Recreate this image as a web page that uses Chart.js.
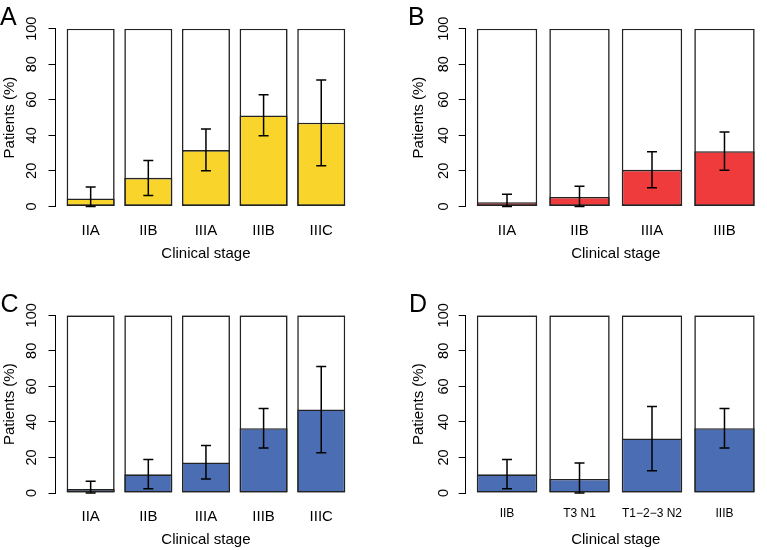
<!DOCTYPE html>
<html>
<head>
<meta charset="utf-8">
<script src="https://cdn.jsdelivr.net/npm/chart.js@4.4.1/dist/chart.umd.min.js"></script>
<style>
  html, body { margin: 0; padding: 0; background: #fff; }
  #wrap { position: relative; width: 767px; height: 550px; overflow: hidden; background: #fff; }
  canvas { position: absolute; }
  .tag { position: absolute; font: 25px/25px "Liberation Sans", Arial, sans-serif; color: #000; }
</style>
</head>
<body>
<div id="wrap">
  <canvas id="chartA" width="383" height="275" style="left:0;top:0"></canvas>
  <canvas id="chartB" width="384" height="275" style="left:383px;top:0"></canvas>
  <canvas id="chartC" width="383" height="275" style="left:0;top:275px"></canvas>
  <canvas id="chartD" width="384" height="275" style="left:383px;top:275px"></canvas>
  <div class="tag" style="left:0;top:4px">A</div>
  <div class="tag" style="left:408px;top:4px">B</div>
  <div class="tag" style="left:0.5px;top:291px">C</div>
  <div class="tag" style="left:409px;top:290.5px">D</div>
</div>
<script>
// values (percent of patients, with CI bounds)
const stagesA = ['IIA', 'IIB', 'IIIA', 'IIIB', 'IIIC'];
const pctA = [4.5, 16.1, 31.7, 51.2, 47.1];
const lowA = [0, 6.2, 20.1, 39.8, 22.9];
const highA = [10.9, 25.9, 43.5, 62.9, 71.1];

const stagesB = ['IIA', 'IIB', 'IIIA', 'IIIB'];
const pctB = [2.4, 5.3, 20.6, 31.1];
const lowB = [0, 0, 10.5, 20.3];
const highB = [6.9, 11.4, 30.8, 41.8];

const stagesC = ['IIA', 'IIB', 'IIIA', 'IIIB', 'IIIC'];
const pctC = [2.2, 10.5, 17.2, 36.5, 47.0];
const lowC = [0, 2.4, 7.9, 25.3, 22.7];
const highC = [6.6, 18.9, 26.8, 47.6, 71.2];

const stagesD = ['IIB', 'T3 N1', 'T1\u22122\u22123 N2', 'IIIB'];
const pctD = [10.5, 7.9, 30.7, 36.5];
const lowD = [2.4, 0, 12.5, 25.3];
const highD = [18.9, 16.9, 48.7, 47.6];

const yTicks = [0, 20, 40, 60, 80, 100];

const FONT = '"Liberation Sans", Arial, sans-serif';
Chart.defaults.font.family = FONT;
Chart.defaults.color = '#000';

// barplot-like layout: bar width 1, gap 0.2
const mid = i => 0.7 + 1.2 * i;

const errorBars = {
  id: 'errorBars',
  afterDatasetsDraw(chart, args, opts) {
    const { ctx, scales: { y } } = chart;
    const meta = chart.getDatasetMeta(0);
    ctx.save();
    ctx.strokeStyle = '#000';
    ctx.lineWidth = 1.5;
    meta.data.forEach((bar, i) => {
      const x = bar.x;
      const y1 = y.getPixelForValue(opts.low[i]);
      const y2 = y.getPixelForValue(opts.high[i]);
      ctx.beginPath();
      ctx.moveTo(x, y1); ctx.lineTo(x, y2);
      ctx.moveTo(x - 5, y1); ctx.lineTo(x + 5, y1);
      ctx.moveTo(x - 5, y2); ctx.lineTo(x + 5, y2);
      ctx.stroke();
    });
    ctx.restore();
  }
};

// y tick labels written sideways, like R's default axis
const sideTicks = {
  id: 'sideTicks',
  afterDraw(chart, args, opts) {
    const { ctx, scales: { y } } = chart;
    const fs = 14.5;
    const cx = y.right - opts.offset;
    ctx.save();
    ctx.fillStyle = '#000';
    ctx.font = fs + 'px ' + FONT;
    ctx.textAlign = 'center';
    ctx.textBaseline = 'alphabetic';
    yTicks.forEach(v => {
      ctx.save();
      ctx.translate(cx, y.getPixelForValue(v));
      ctx.rotate(-Math.PI / 2);
      ctx.fillText(String(v), 0, 0.358 * fs);
      ctx.restore();
    });
    ctx.restore();
  }
};

function makePanel(p) {
  const n = p.labels.length;
  const span = 1.2 * n - 0.2;
  const top = yTicks[yTicks.length - 1];
  const canvas = document.getElementById(p.id);
  const barStyle = {
    borderColor: '#222',
    borderWidth: 1.6,
    borderSkipped: false,
    grouped: false,
    barPercentage: 1 / 1.2,
    categoryPercentage: 1
  };
  return new Chart(canvas, {
    type: 'bar',
    data: {
      datasets: [
        Object.assign({
          data: p.pct.map((v, i) => ({ x: mid(i), y: v })),
          backgroundColor: p.color,
          order: 1
        }, barStyle),
        Object.assign({
          data: p.pct.map((v, i) => ({ x: mid(i), y: top })),
          backgroundColor: '#fff',
          order: 2
        }, barStyle)
      ]
    },
    options: {
      responsive: false,
      animation: false,
      layout: { padding: { left: 0, top: p.top, right: p.padR, bottom: 0 } },
      plugins: {
        legend: { display: false },
        tooltip: { enabled: false },
        errorBars: { low: p.low, high: p.high },
        sideTicks: { offset: p.labelOff }
      },
      scales: {
        x: {
          type: 'linear',
          offset: false,
          min: 0.2 - 0.04 * span,
          max: 0.2 + span + 0.04 * span,
          grid: { display: false, drawTicks: false },
          border: { display: false },
          afterBuildTicks: s => { s.ticks = p.labels.map((l, i) => ({ value: mid(i) })); },
          afterFit: s => { s.height = 275 - p.bottom; },
          ticks: {
            autoSkip: false, maxRotation: 0, minRotation: 0,
            padding: 15 - (15 - p.tickSize) / 2,
            font: { size: p.tickSize },
            callback: (v, i) => p.labels[i]
          },
          title: {
            display: true, text: 'Clinical stage',
            font: { size: 15 },
            padding: { top: 0, bottom: 275 - p.bottom - 56 }
          }
        },
        y: {
          min: 0, max: top,
          afterBuildTicks: s => { s.ticks = yTicks.map(v => ({ value: v })); },
          afterFit: s => { s.width = p.yW; },
          grid: { drawOnChartArea: false, tickLength: 7, color: '#000', lineWidth: 1 },
          border: { color: '#000', width: 1 },
          ticks: { display: false },
          title: {
            display: true, text: 'Patients (%)',
            font: { size: 15 },
            padding: { top: p.titlePad, bottom: 0 }
          }
        }
      }
    },
    plugins: [errorBars, sideTicks]
  });
}

makePanel({ id: 'chartA', labels: stagesA, pct: pctA, low: lowA, high: highA, color: '#F9D52B',
  yW: 55.5, padR: 26.6, top: 28.7, bottom: 206.4, titlePad: 0.5, labelOff: 24.5, tickSize: 15 });
makePanel({ id: 'chartB', labels: stagesB, pct: pctB, low: lowB, high: highB, color: '#EF3B3B',
  yW: 82.7, padR: 1.2, top: 28.7, bottom: 206.4, titlePad: 27.3, labelOff: 22.7, tickSize: 15 });
makePanel({ id: 'chartC', labels: stagesC, pct: pctC, low: lowC, high: highC, color: '#4A6DB3',
  yW: 55.5, padR: 26.6, top: 40.3, bottom: 218, titlePad: 0.5, labelOff: 24.5, tickSize: 15 });
makePanel({ id: 'chartD', labels: stagesD, pct: pctD, low: lowD, high: highD, color: '#4A6DB3',
  yW: 82.7, padR: 1.2, top: 40.3, bottom: 218, titlePad: 27.3, labelOff: 22.7, tickSize: 12 });
</script>
</body>
</html>
